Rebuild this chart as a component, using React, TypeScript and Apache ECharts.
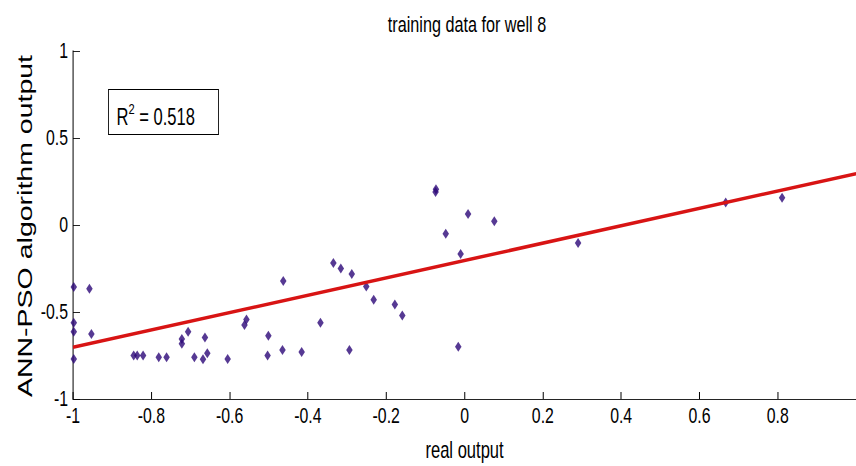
import React, { useEffect, useRef } from 'react';
import * as echarts from 'echarts';

const realOutput = [
  -0.998, -0.958, -0.998, -0.998, -0.953, -0.998, -0.845, -0.836, -0.821, -0.781,
  -0.761, -0.722, -0.722, -0.706, -0.69, -0.663, -0.668, -0.657, -0.605, -0.562,
  -0.557, -0.501, -0.503, -0.463, -0.465, -0.416, -0.368, -0.294, -0.335, -0.316,
  -0.288, -0.251, -0.232, -0.178, -0.159, -0.074, -0.073, -0.048, 0.009, 0.076,
  -0.01, -0.016, 0.29, 0.667, 0.811,
];
const annPsoOutput = [
  -0.356, -0.366, -0.562, -0.613, -0.627, -0.77, -0.75, -0.75, -0.75, -0.76,
  -0.76, -0.655, -0.682, -0.613, -0.76, -0.646, -0.771, -0.737, -0.77, -0.575,
  -0.543, -0.636, -0.75, -0.322, -0.718, -0.73, -0.562, -0.718, -0.219, -0.25,
  -0.282, -0.354, -0.429, -0.457, -0.52, 0.19, 0.205, -0.051, 0.063, 0.021,
  -0.166, -0.699, -0.103, 0.13, 0.156,
];
const fitX = [-1, 1];
const fitY = [-0.703, 0.295];
const rSquared = '0.518';
const titleText = 'training data for well 8';
const xName = 'real output';
const yName = 'ANN-PSO algorithm output';

// The reference figure is squeezed horizontally; we render wider and compress with CSS.
const K = 0.72;
const W = 856 / K;
const FONT = "'Liberation Sans', Arial, Helvetica, sans-serif";

export default function App() {
  const ref = useRef<HTMLDivElement>(null);
  useEffect(() => {
    if (!ref.current) return;
    const chart = echarts.init(ref.current, undefined, { renderer: 'svg' });
    chart.setOption({
      animation: false,
      backgroundColor: '#fff',
      grid: { left: 73 / K, right: 856 / K - 863.6 / K, top: 51, bottom: 65 },
      xAxis: {
        type: 'value',
        min: -1,
        max: 1,
        interval: 0.2,
        axisLine: { show: true, onZero: false, lineStyle: { color: '#000', width: 1 } },
        axisTick: { show: true, inside: true, length: 7, lineStyle: { color: '#000', width: 1 / K } },
        splitLine: { show: false },
        axisLabel: {
          color: '#000', fontSize: 22, fontFamily: FONT, margin: 6, showMaxLabel: false,
          formatter: (v: number) => String(Number(v.toFixed(1))),
        },
        name: xName,
        nameLocation: 'middle',
        nameGap: 39,
        nameTextStyle: { color: '#000', fontSize: 23, fontFamily: FONT },
      },
      yAxis: {
        type: 'value',
        min: -1,
        max: 1,
        interval: 0.5,
        axisLine: { show: true, onZero: false, lineStyle: { color: '#000', width: 1 / K } },
        axisTick: { show: true, inside: true, length: 7 / K, lineStyle: { color: '#000', width: 1 } },
        splitLine: { show: false },
        axisLabel: {
          color: '#000', fontSize: 22, fontFamily: FONT, margin: 5 / K,
          formatter: (v: number) => String(Number(v.toFixed(1))),
        },
      },
      graphic: [
        {
          type: 'text', x: 467 / K, y: 24,
          style: { text: titleText, fontSize: 22.5, fontFamily: FONT, fill: '#000', align: 'center', verticalAlign: 'middle' },
        },
        {
          type: 'text', x: 25 / K, y: 226, rotation: Math.PI / 2,
          style: { text: yName, fontSize: 28.5, fontFamily: FONT, fill: '#000', align: 'center', verticalAlign: 'middle' },
        },
        {
          type: 'rect', shape: { x: 108.5 / K, y: 89.5, width: 110 / K, height: 45 },
          style: { fill: '#fff', stroke: '#000', lineWidth: 1.2 }, z: 10,
        },
        {
          type: 'text', x: 116.5 / K, y: 101, z: 11,
          style: {
            text: '{r|R}{s|2}{r| = ' + rSquared + '}',
            fill: '#000',
            rich: {
              r: { fontSize: 23, fontFamily: FONT, fill: '#000', lineHeight: 27, verticalAlign: 'bottom' },
              s: { fontSize: 15.5, fontFamily: FONT, fill: '#000', lineHeight: 27, verticalAlign: 'top' },
            },
          },
        },
      ],
      series: [
        {
          type: 'scatter',
          data: realOutput.map((x, i) => [x, annPsoOutput[i]]),
          symbol: 'diamond',
          symbolSize: [6.5 / K, 10],
          itemStyle: { color: '#2c0878' },
          z: 2,
        },
        {
          type: 'line',
          data: fitX.map((x, i) => [x, fitY[i]]),
          showSymbol: false,
          symbol: 'none',
          lineStyle: { color: '#d81414', width: 3.5 },
          z: 3,
        },
      ],
    });
    return () => chart.dispose();
  }, []);
  return (
    <div style={{ position: 'fixed', left: 0, top: 0, width: 856, height: 466, overflow: 'hidden', background: '#fff' }}>
      <div
        ref={ref}
        style={{ width: W, height: 466, transform: `scaleX(${K})`, transformOrigin: '0 0' }}
      />
    </div>
  );
}
